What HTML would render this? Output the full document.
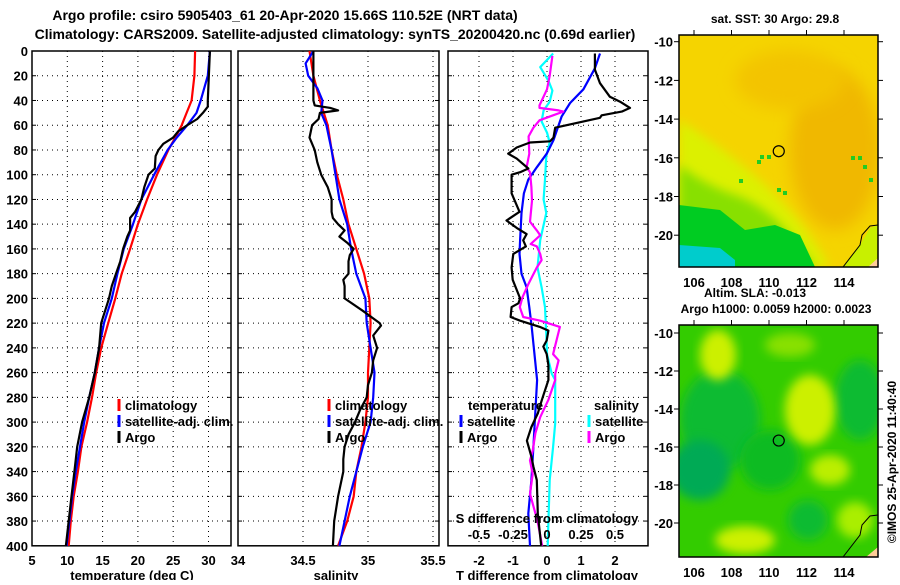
<!DOCTYPE html>
<html><head><meta charset="utf-8">
<style>
body{margin:0;background:#fff;}
svg text{font-family:"Liberation Sans",sans-serif;font-weight:bold;fill:#000;}
</style></head>
<body>
<svg id="fig" width="900" height="580" viewBox="0 0 900 580" xmlns="http://www.w3.org/2000/svg">
<defs>
<filter id="blur1" x="-20%" y="-20%" width="140%" height="140%"><feGaussianBlur stdDeviation="5"/></filter>
<filter id="blur2" x="-20%" y="-20%" width="140%" height="140%"><feGaussianBlur stdDeviation="8"/></filter>
<clipPath id="clipMapTop"><rect x="679" y="35" width="199" height="232"/></clipPath>
<clipPath id="clipMapBot"><rect x="679" y="325" width="199" height="232"/></clipPath>
<clipPath id="clipP1"><rect x="32" y="51" width="199" height="495"/></clipPath>
<clipPath id="clipP2"><rect x="238" y="51" width="201" height="495"/></clipPath>
<clipPath id="clipP3"><rect x="448" y="51" width="200" height="495"/></clipPath>
</defs>
<text x="285" y="20" font-size="14" text-anchor="middle">Argo profile: csiro 5905403_61 20-Apr-2020 15.66S 110.52E (NRT data)</text>
<text x="335" y="39" font-size="14" text-anchor="middle">Climatology: CARS2009. Satellite-adjusted climatology: synTS_20200420.nc (0.69d earlier)</text>
<g id="plots"></g>
<g id="maps"></g>
</svg>
<script>
// ---------- Data ----------
const depthTicks = [0,20,40,60,80,100,120,140,160,180,200,220,240,260,280,300,320,340,360,380,400];
const tempTicks = [5,10,15,20,25,30];
const salTicks = [34,34.5,35,35.5];
const tdiffTicks = [-2,-1,0,1,2];
const sdiffTicks = [-0.5,-0.25,0,0.25,0.5];
const sdiffTickLabels = ["-0.5","-0.25","0","0.25","0.5"];

const climDepth = [0,20,30,40,50,60,70,80,100,120,140,160,180,200,220,240,260,280,300,320,340,360,380,400];
const climTemp  = [28.1,28.0,27.8,27.6,26.9,26.2,25.3,24.3,22.7,21.3,20.0,18.9,17.7,16.8,15.8,14.8,14.1,13.5,12.8,12.0,11.5,10.9,10.5,10.2];
const satDepth = [0,20,40,50,60,70,80,100,120,140,160,180,200,220,240,260,280,300,320,340,360,380,400];
const satTemp  = [30.2,29.9,28.9,28.3,27.0,25.5,24.2,22.3,20.5,19.3,18.0,17.1,16.3,15.2,14.5,13.9,13.1,12.4,11.8,11.2,10.7,10.3,9.9];
const argoTDepth = [0,40,45,50,55,60,65,70,75,80,85,95,100,110,120,130,135,145,150,160,170,180,190,200,220,240,260,280,300,320,340,360,380,400];
const argoTemp   = [30.2,29.9,29.9,29.2,28.4,27.0,25.7,25.0,23.6,22.9,22.5,22.4,21.5,20.9,20.5,19.6,18.9,18.9,18.5,17.9,17.5,16.9,16.3,15.9,14.8,14.5,13.9,13.1,12.1,11.4,11.0,10.6,10.2,9.8];

const climSDepth = [0,20,40,60,80,100,120,140,160,180,200,220,240,260,280,300,320,340,360,380,400];
const climSal    = [34.55,34.58,34.63,34.69,34.72,34.76,34.81,34.85,34.91,34.97,35.01,35.02,35.01,35.00,35.00,34.98,34.95,34.91,34.89,34.84,34.77];
const satSDepth = [0,10,20,30,40,50,60,80,100,120,140,160,180,200,220,240,260,280,300,320,340,360,380,400];
const satSal    = [34.58,34.52,34.54,34.61,34.65,34.64,34.68,34.72,34.75,34.78,34.84,34.87,34.91,34.98,34.99,35.02,35.05,35.04,35.02,34.96,34.91,34.86,34.82,34.78];
const argoSDepth = [0,20,40,44,46,48,50,55,60,70,80,90,100,110,120,130,135,140,145,150,155,160,165,170,180,185,190,200,210,220,222,230,240,250,260,270,280,290,300,310,320,330,340,360,380,400];
const argoSal    = [34.58,34.58,34.58,34.59,34.71,34.77,34.63,34.62,34.57,34.55,34.59,34.61,34.64,34.69,34.72,34.72,34.73,34.77,34.82,34.78,34.84,34.89,34.86,34.85,34.85,34.81,34.82,34.82,34.96,35.09,35.10,35.04,35.07,35.04,35.03,35.00,34.99,34.94,34.90,34.85,34.82,34.81,34.81,34.77,34.74,34.73];

const argoDTDepth = [2,15,26,37,41,46,49,52,54,62,70,73,74,78,83,87,95,98,100,115,130,137,143,148,153,158,164,175,185,200,204,207,215,218,223,226,234,239,245,254,266,282,293,304,315,328,336,347,374,400];
const argoDT      = [1.41,1.41,1.56,1.85,2.15,2.44,2.20,1.61,1.56,0.24,0.19,0.09,-0.50,-0.89,-1.14,-0.89,-0.55,-0.79,-1.04,-1.04,-0.81,-1.19,-0.89,-0.60,-0.70,-0.62,-0.99,-1.04,-1.01,-0.79,-0.84,-1.04,-1.07,-0.79,-0.21,0.04,-0.01,-0.11,-0.01,0.04,0.04,-0.15,-0.27,-0.46,-0.59,-0.46,-0.40,-0.30,-0.27,-0.17];
const satDTDepth = [2,14,31,42,53,72,83,94,104,115,131,153,164,180,191,207,223,250,266,320,347,374,400];
const satDT      = [1.56,1.41,1.07,0.68,0.43,0.19,-0.01,-0.30,-0.55,-0.68,-0.75,-0.79,-0.81,-0.75,-0.60,-0.52,-0.45,-0.35,-0.29,-0.40,-0.46,-0.55,-0.50];
const satDSDepth = [2,13,24,32,41,48,57,66,74,85,104,120,131,153,175,191,207,229,245,261,266,301,320,347,400];
const satDS      = [0.045,-0.05,0.01,0.04,0.02,-0.025,-0.04,0,0.02,-0.005,-0.015,-0.025,-0.005,-0.05,-0.07,-0.04,-0.015,-0.005,0,0.035,0.06,0.06,0.045,0.02,0.005];
const argoDSDepth = [4,20,31,44,46,48,49,52,56,62,69,83,94,98,110,121,138,145,149,156,158,164,169,175,188,199,207,215,218,223,234,245,250,261,266,282,296,309,323,331,342,358,380,400];
const argoDS      = [0.04,0.02,0,-0.055,-0.055,0.085,0.12,0.045,-0.055,-0.1,-0.135,-0.13,-0.15,-0.125,-0.115,-0.11,-0.125,-0.075,-0.05,-0.12,-0.075,-0.05,-0.04,-0.075,-0.135,-0.18,-0.2,-0.175,-0.05,0.095,0.07,0.045,0.085,0.06,0.06,0.01,-0.05,-0.085,-0.105,-0.125,-0.105,-0.125,-0.07,-0.035];

const latTicks = [-10,-12,-14,-16,-18,-20];
const lonTicks = [106,108,110,112,114];
const floatLon = 110.52;
const floatLat = -15.66;

// ---------- Axes ----------
const NS = "http://www.w3.org/2000/svg";
const plots = document.getElementById('plots');
const mapsG = document.getElementById('maps');
const Y0 = 51, YPX = 1.237;
function yD(d){ return Y0 + d*YPX; }
function xT(t){ return 32 + (t-5)*7.06; }
function xS(s){ return 238 + (s-34)*130; }
function xDT(t){ return 547 + t*34; }
function xDS(s){ return 547 + s*136; }
function lonX(l){ return 694 + (l-106)*18.75; }
function latYTop(l){ return 41.7 + (-10-l)*19.35; }
function latYBot(l){ return 333 + (-10-l)*19.0; }

function mk(tag, attrs, parent){
  const e = document.createElementNS(NS, tag);
  for (const k in attrs) e.setAttribute(k, attrs[k]);
  (parent||plots).appendChild(e);
  return e;
}
function txt(str, x, y, size, anchor, parent){
  const t = mk('text', {x:x, y:y, 'font-size':size, 'text-anchor':anchor||'start'}, parent);
  t.textContent = str;
  return t;
}

function panel(name, x0, x1, vGrid, xf){
  const g = mk('g', {});
  
  
  depthTicks.forEach(d => {
    if (d===0||d===400) return;
    const l = mk('line', {x1:x0, x2:x1, y1:yD(d), y2:yD(d), stroke:'#000', 'stroke-width':1, 'stroke-dasharray':'1,4'}, g);
    
    
    mk('line', {x1:x0, x2:x0+4, y1:yD(d), y2:yD(d), stroke:'#000'}, g);
    mk('line', {x1:x1-4, x2:x1, y1:yD(d), y2:yD(d), stroke:'#000'}, g);
  });
  vGrid.forEach(v => {
    const x = xf(v);
    const l = mk('line', {x1:x, x2:x, y1:Y0, y2:yD(400), stroke:'#000', 'stroke-width':1, 'stroke-dasharray':'1,4'}, g);
    
    
  });
  const r = mk('rect', {x:x0, y:Y0, width:x1-x0, height:yD(400)-Y0, fill:'none', stroke:'#000', 'stroke-width':1.5}, g);
  
  
  return g;
}

function line(name, depths, vals, xf, color, clip){
  const pts = depths.map((d,i) => xf(vals[i]).toFixed(1)+','+yD(d).toFixed(1)).join(' ');
  const p = mk('polyline', {points:pts, fill:'none', stroke:color, 'stroke-width':2.2, 'stroke-linejoin':'round', 'clip-path':'url(#'+clip+')'});
  
  
}

panel('temperature-panel', 32, 231, [10,15,20,25,30], xT);
line('temperature-climatology-line', climDepth, climTemp, xT, '#ff0000', 'clipP1');
line('temperature-satellite-line', satDepth, satTemp, xT, '#0000ff', 'clipP1');
line('temperature-argo-line', argoTDepth, argoTemp, xT, '#000000', 'clipP1');
panel('salinity-panel', 238, 439, [34.5,35,35.5], xS);
line('salinity-climatology-line', climSDepth, climSal, xS, '#ff0000', 'clipP2');
line('salinity-satellite-line', satSDepth, satSal, xS, '#0000ff', 'clipP2');
line('salinity-argo-line', argoSDepth, argoSal, xS, '#000000', 'clipP2');
panel('difference-panel', 448, 648, [-2,-1,0,1,2], xDT);
line('salinity-satellite-diff-line', satDSDepth, satDS, xDS, '#00ffff', 'clipP3');
line('temperature-satellite-diff-line', satDTDepth, satDT, xDT, '#0000ff', 'clipP3');
line('salinity-argo-diff-line', argoDSDepth, argoDS, xDS, '#ff00ff', 'clipP3');
line('temperature-argo-diff-line', argoDTDepth, argoDT, xDT, '#000000', 'clipP3');

depthTicks.forEach(d => {
  const t = txt(String(d), 28, yD(d)+5, 13, 'end');
  
  
});
tempTicks.forEach(v => {
  const t = txt(String(v), xT(v), 565, 13, 'middle');
  
  
});
salTicks.forEach(v => {
  const t = txt(String(v), xS(v), 565, 13, 'middle');
  
  
});
tdiffTicks.forEach(v => {
  const t = txt(String(v), xDT(v), 565, 13, 'middle');
  
  
});
sdiffTicks.forEach((v,i) => {
  const t = txt(sdiffTickLabels[i], xDS(v), 539, 13, 'middle');
  
  
});
const tsl = txt('S difference from climatology', 547, 523, 13, 'middle');


const a1 = txt('temperature (deg C)', 132, 580, 13, 'middle');


const a2 = txt('salinity', 336, 580, 13, 'middle');


const a3 = txt('T difference from climatology', 547, 580, 13, 'middle');



function legendEntry(name, x, y, color, label){
  const g = mk('g', {});
  
  
  mk('line', {x1:x, x2:x, y1:y-11, y2:y+1, stroke:color, 'stroke-width':3}, g);
  txt(label, x+6, y, 13, 'start', g);
}
legendEntry('legend-entry-climatology', 119, 410, '#ff0000', 'climatology');
legendEntry('legend-entry-satellite', 119, 426, '#0000ff', 'satellite-adj. clim.');
legendEntry('legend-entry-argo', 119, 442, '#000000', 'Argo');
legendEntry('legend-entry-climatology-sal', 329, 410, '#ff0000', 'climatology');
legendEntry('legend-entry-satellite-sal', 329, 426, '#0000ff', 'satellite-adj. clim.');
legendEntry('legend-entry-argo-sal', 329, 442, '#000000', 'Argo');
const lt = txt('temperature', 468, 410, 13, 'start');


const ls = txt('salinity', 594, 410, 13, 'start');


legendEntry('legend-entry-t-satellite', 461, 426, '#0000ff', 'satellite');
legendEntry('legend-entry-t-argo', 461, 442, '#000000', 'Argo');
legendEntry('legend-entry-s-satellite', 589, 426, '#00ffff', 'satellite');
legendEntry('legend-entry-s-argo', 589, 442, '#ff00ff', 'Argo');

// ---------- Maps ----------
function mapFrame(name, clip){
  const g = mk('g', {'clip-path':'url(#'+clip+')'}, mapsG);
  
  
  return g;
}
const gt = mapFrame('sst-map', 'clipMapTop');
mk('rect', {x:679, y:35, width:199, height:232, fill:'#f5d400'}, gt);
mk('ellipse', {cx:835, cy:150, rx:45, ry:80, fill:'#f0b800', filter:'url(#blur2)'}, gt);
mk('ellipse', {cx:790, cy:80, rx:55, ry:30, fill:'#f3c400', filter:'url(#blur2)'}, gt);
mk('path', {d:'M679 120 Q720 145 760 180 Q800 215 830 267 L679 267 Z', fill:'#dcf000', filter:'url(#blur1)'}, gt);
mk('path', {d:'M679 165 Q705 185 735 195 Q765 205 790 235 Q805 255 815 267 L679 267 Z', fill:'#88e000', filter:'url(#blur1)'}, gt);
mk('path', {d:'M679 205 L720 210 L745 230 L775 225 L800 235 L815 267 L679 267 Z', fill:'#00cc22'}, gt);
mk('path', {d:'M679 245 L720 248 L735 260 L735 267 L679 267 Z', fill:'#00cccc'}, gt);
mk('path', {d:'M843 267 L860 245 L870 228 L878 225 L878 267 Z', fill:'#c8f000'}, gt);
mk('path', {d:'M843 267 L860 245 L862 235 L870 226 L878 225', fill:'none', stroke:'#000', 'stroke-width':1}, gt);
mk('path', {d:'M868 267 L878 258 L878 267 Z', fill:'#ffcc99'}, gt);
[[760,155],[767,155],[757,160],[739,179],[777,188],[783,191],[851,156],[858,156],[863,165],[869,178]].forEach(p=>{
  mk('rect', {x:p[0], y:p[1], width:4, height:4, fill:'#22cc22'}, gt);
});
mk('rect', {x:679, y:35, width:199, height:232, fill:'none', stroke:'#000', 'stroke-width':1.5}, mapsG);
const c1 = mk('circle', {cx:lonX(floatLon), cy:latYTop(floatLat), r:5.5, fill:'none', stroke:'#000', 'stroke-width':1.2}, mapsG);



const gb = mapFrame('sla-map', 'clipMapBot');
mk('rect', {x:679, y:325, width:199, height:232, fill:'#33cc00'}, gb);
[[720,420,40,50,'#11bb33'],[700,470,30,30,'#00aa55'],[860,400,25,40,'#11bb33'],[808,520,20,20,'#11bb33'],[770,460,30,30,'#11bb22']].forEach(b=>{
  mk('ellipse', {cx:b[0], cy:b[1], rx:b[2], ry:b[3], fill:b[4], filter:'url(#blur1)'}, gb);
});
[[718,355,18,25,'#ccf000'],[810,410,25,35,'#ccf000'],[830,470,20,15,'#bbee00'],[745,540,30,14,'#ccf000'],[855,520,18,18,'#aaee00'],[790,345,25,12,'#88e000']].forEach(b=>{
  mk('ellipse', {cx:b[0], cy:b[1], rx:b[2], ry:b[3], fill:b[4], filter:'url(#blur1)'}, gb);
});
mk('path', {d:'M843 557 L860 535 L862 525 L870 516 L878 515', fill:'none', stroke:'#000', 'stroke-width':1}, gb);
mk('path', {d:'M866 557 L878 547 L878 557 Z', fill:'#ffcc99'}, gb);
mk('rect', {x:679, y:325, width:199, height:232, fill:'none', stroke:'#000', 'stroke-width':1.5}, mapsG);
const c2 = mk('circle', {cx:lonX(floatLon), cy:latYBot(floatLat), r:5.5, fill:'none', stroke:'#000', 'stroke-width':1.2}, mapsG);



latTicks.forEach(l => {
  [latYTop(l), latYBot(l)].forEach(y => {
    mk('line', {x1:878, x2:883, y1:y, y2:y, stroke:'#000'}, mapsG);
    mk('line', {x1:674, x2:679, y1:y, y2:y, stroke:'#000'}, mapsG);
    const t = txt(String(l), 673, y+5, 13, 'end', mapsG);
    
    
  });
});
lonTicks.forEach(l => {
  const x = lonX(l);
  mk('line', {x1:x, x2:x, y1:30, y2:35, stroke:'#000'}, mapsG);
  mk('line', {x1:x, x2:x, y1:320, y2:325, stroke:'#000'}, mapsG);
  const t1 = txt(String(l), x, 287, 13, 'middle', mapsG);
  
  
  const t2 = txt(String(l), x, 577, 13, 'middle', mapsG);
  
  
});
const m1 = txt('sat. SST: 30 Argo: 29.8', 775, 23, 12, 'middle', mapsG);


const m2 = txt('Altim. SLA: -0.013', 755, 297, 12, 'middle', mapsG);


const m3 = txt('Argo h1000: 0.0059 h2000: 0.0023', 776, 313, 12, 'middle', mapsG);


const cr = mk('text', {x:0, y:0, 'font-size':12, 'text-anchor':'middle', transform:'translate(896,462) rotate(-90)', 'font-weight':'normal'}, mapsG);
cr.textContent = '©IMOS 25-Apr-2020 11:40:40';


</script>
</body></html>
